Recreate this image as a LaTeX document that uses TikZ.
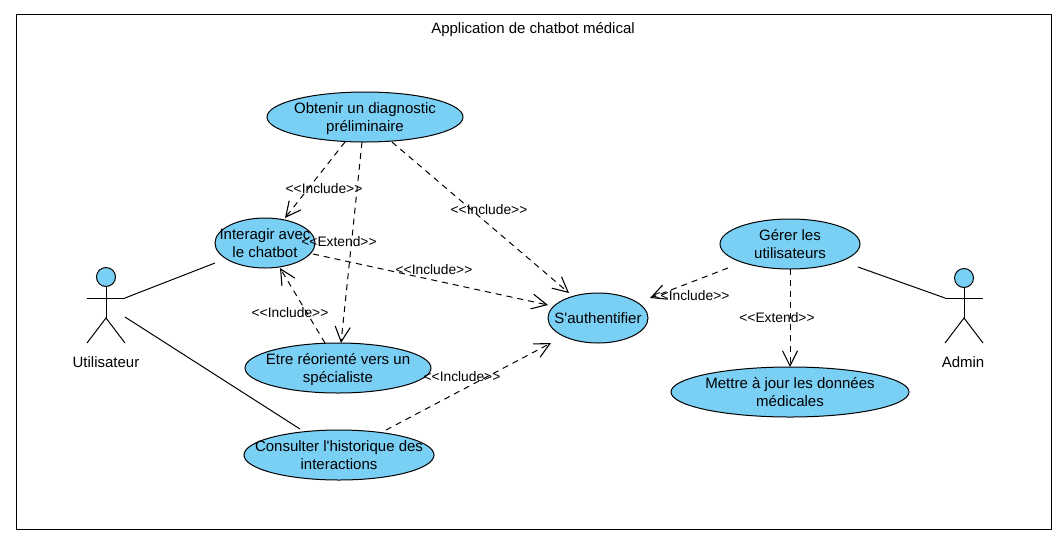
\documentclass[tikz,border=0pt]{standalone}
\usepackage{fontspec}
\setmainfont{Liberation Sans}
\usetikzlibrary{arrows.meta,calc,shapes.geometric}
\definecolor{uc}{RGB}{122,207,245}
\newcommand{\uctext}[1]{\makebox[0pt][c]{\raisebox{-5.5pt}[0pt][0pt]{\begin{tabular}{@{}c@{}}#1\end{tabular}}}}
\tikzset{
  usecase/.style={ellipse,draw=black,fill=uc,line width=1pt,inner sep=0pt,outer sep=0pt,font=\fontsize{15}{18}\selectfont,text=black},
  stereo/.style={font=\fontsize{13.8}{15}\selectfont,inner sep=0pt,text=black},
  depend/.style={dashed,dash pattern=on 6pt off 5pt,line width=1pt,-{Straight Barb[length=15pt,width=15pt,line width=1.1pt]}},
  assoc/.style={line width=1pt},
  actorhead/.style={circle,draw=black,fill=uc,line width=1pt,minimum size=19pt,inner sep=0pt},
  actorbody/.style={line width=1pt},
  plain/.style={font=\fontsize{15}{18}\selectfont,inner sep=0pt,text=black}
}
\begin{document}
\begin{tikzpicture}[x=1pt,y=-1pt]
\useasboundingbox (0,0) rectangle (1062,539);
\fill[white] (0,0) rectangle (1062,539);
\node[draw=black,line width=1pt,minimum width=1035pt,minimum height=515pt,inner sep=0pt] (frame) at (533.5,271.5) {};
\node[plain] (title) at (533,30) {Application de chatbot médical};

\node[usecase,minimum width=196pt,minimum height=50pt] (diag) at (365,117) {\uctext{Obtenir un diagnostic\\préliminaire}};
\node[usecase,minimum width=100pt,minimum height=50pt] (chat) at (265,243) {\uctext{Interagir avec\\le chatbot}};
\node[usecase,minimum width=186pt,minimum height=50pt] (spec) at (338,368) {\uctext{Etre réorienté vers un\\spécialiste}};
\node[usecase,minimum width=190pt,minimum height=50pt] (hist) at (339,455) {\uctext{Consulter l\textquotesingle historique des\\interactions}};
\node[usecase,minimum width=100pt,minimum height=50pt] (auth) at (598,318) {\uctext{S\textquotesingle authentifier}};
\node[usecase,minimum width=140pt,minimum height=50pt] (users) at (790,244) {\uctext{Gérer les\\utilisateurs}};
\node[usecase,minimum width=238pt,minimum height=50pt] (data) at (790,392) {\uctext{Mettre à jour les données\\médicales}};

\node[actorhead] (util) at (106,277) {};
\draw[actorbody] (util.south) -- ++(0,31) coordinate (utilhip);
\draw[actorbody] ($(util)+(-19,21)$) -- ($(util)+(19,21)$);
\draw[actorbody] ($(util)+(-19,66)$) -- (utilhip) -- ($(util)+(19,66)$);
\node[plain] (utillabel) at (106,362) {Utilisateur};

\node[actorhead] (admin) at (964,278) {};
\draw[actorbody] (admin.south) -- ++(0,30) coordinate (adminhip);
\draw[actorbody] ($(admin)+(-19,20)$) -- ($(admin)+(19,20)$);
\draw[actorbody] ($(admin)+(-19,65)$) -- (adminhip) -- ($(admin)+(19,65)$);
\node[plain] (adminlabel) at (963,362) {Admin};

\draw[assoc] ($(util)+(19,21)$) -- ($(chat)+(-50,20)$);
\draw[assoc] ($(util)+(19,40)$) -- ($(hist)+(-39,-26)$);
\draw[assoc] ($(users)+(68,23)$) -- ($(admin)+(-19,20)$);

\draw[depend] ($(diag)+(-20,25)$) -- ($(chat)+(20,-25)$);
\draw[depend] ($(diag)+(-3,25)$) -- ($(spec)+(3,-25)$);
\draw[depend] ($(diag)+(27,25)$) -- ($(auth)+(-29,-25)$);
\draw[depend] ($(chat)+(48,11)$) -- ($(auth)+(-50,-13)$);
\draw[depend] ($(spec)+(-13,-25)$) -- ($(chat)+(15,25)$);
\draw[depend] ($(hist)+(47,-25)$) -- ($(auth)+(-47,25)$);
\draw[depend] ($(users)+(-62,24)$) -- ($(auth)+(52,-20)$);
\draw[depend] ($(users)+(0,25)$) -- (data.north);

\node[stereo] (l1) at (324,189) {<{}<Include>{}>};
\node[stereo] (l2) at (339,242) {<{}<Extend>{}>};
\node[stereo] (l3) at (489,210) {<{}<Include>{}>};
\node[stereo] (l4) at (434,270) {<{}<Include>{}>};
\node[stereo] (l5) at (290,313) {<{}<Include>{}>};
\node[stereo] (l6) at (462,377) {<{}<Include>{}>};
\node[stereo] (l7) at (691,296) {<{}<Include>{}>};
\node[stereo] (l8) at (777,318) {<{}<Extend>{}>};
\end{tikzpicture}
\end{document}
